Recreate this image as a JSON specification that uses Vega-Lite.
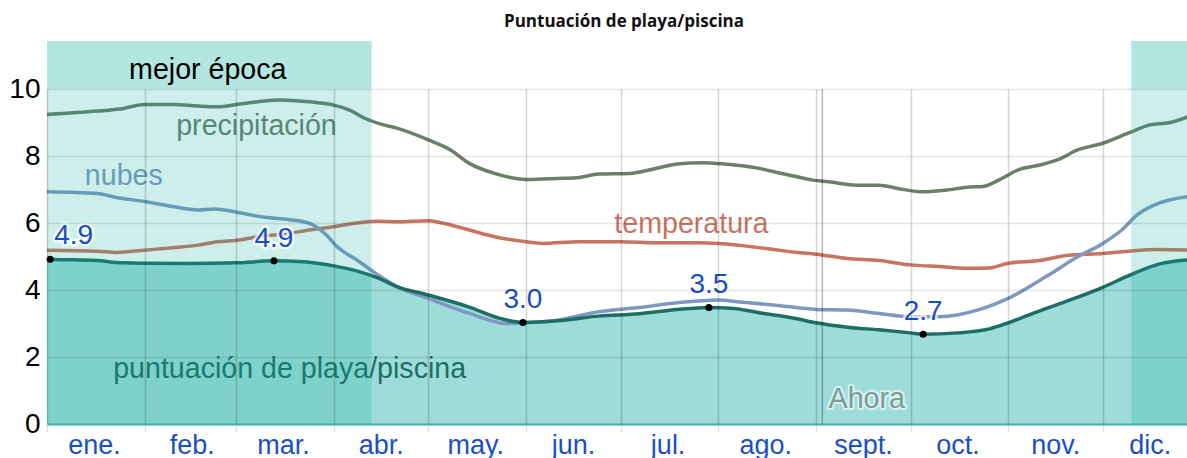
{
  "$schema": "https://vega.github.io/schema/vega-lite/v6.json",
  "width": 1140,
  "height": 335,
  "autosize": {"type": "none"},
  "padding": {"left": 47, "top": 89, "right": 0, "bottom": 34},
  "background": "white",
  "title": {"text": "Puntuación de playa/piscina", "font": "Open Sans", "fontSize": 17, "fontWeight": "bold", "color": "#111111", "anchor": "middle", "frame": "group", "dx": 7, "offset": 10},
  "config": {"view": {"stroke": null}, "font": "Liberation Sans"},
  "datasets": {
    "series": [
      {"fecha": "2024-01-01", "serie": "precipitación", "valor": 9.24},
      {"fecha": "2024-01-17", "serie": "precipitación", "valor": 9.34},
      {"fecha": "2024-01-24", "serie": "precipitación", "valor": 9.40},
      {"fecha": "2024-02-01", "serie": "precipitación", "valor": 9.54},
      {"fecha": "2024-02-10", "serie": "precipitación", "valor": 9.54},
      {"fecha": "2024-02-18", "serie": "precipitación", "valor": 9.49},
      {"fecha": "2024-02-24", "serie": "precipitación", "valor": 9.47},
      {"fecha": "2024-03-02", "serie": "precipitación", "valor": 9.55},
      {"fecha": "2024-03-08", "serie": "precipitación", "valor": 9.62},
      {"fecha": "2024-03-15", "serie": "precipitación", "valor": 9.67},
      {"fecha": "2024-03-21", "serie": "precipitación", "valor": 9.64},
      {"fecha": "2024-03-27", "serie": "precipitación", "valor": 9.59},
      {"fecha": "2024-04-01", "serie": "precipitación", "valor": 9.52},
      {"fecha": "2024-04-06", "serie": "precipitación", "valor": 9.37},
      {"fecha": "2024-04-11", "serie": "precipitación", "valor": 9.12},
      {"fecha": "2024-04-16", "serie": "precipitación", "valor": 8.95},
      {"fecha": "2024-04-21", "serie": "precipitación", "valor": 8.83},
      {"fecha": "2024-05-01", "serie": "precipitación", "valor": 8.48},
      {"fecha": "2024-05-08", "serie": "precipitación", "valor": 8.18},
      {"fecha": "2024-05-14", "serie": "precipitación", "valor": 7.78},
      {"fecha": "2024-05-22", "serie": "precipitación", "valor": 7.48},
      {"fecha": "2024-06-01", "serie": "precipitación", "valor": 7.30},
      {"fecha": "2024-06-11", "serie": "precipitación", "valor": 7.33},
      {"fecha": "2024-06-18", "serie": "precipitación", "valor": 7.36},
      {"fecha": "2024-06-24", "serie": "precipitación", "valor": 7.46},
      {"fecha": "2024-07-04", "serie": "precipitación", "valor": 7.48},
      {"fecha": "2024-07-10", "serie": "precipitación", "valor": 7.58},
      {"fecha": "2024-07-19", "serie": "precipitación", "valor": 7.76},
      {"fecha": "2024-07-27", "serie": "precipitación", "valor": 7.80},
      {"fecha": "2024-08-03", "serie": "precipitación", "valor": 7.76},
      {"fecha": "2024-08-14", "serie": "precipitación", "valor": 7.63},
      {"fecha": "2024-08-20", "serie": "precipitación", "valor": 7.50},
      {"fecha": "2024-08-26", "serie": "precipitación", "valor": 7.38},
      {"fecha": "2024-08-31", "serie": "precipitación", "valor": 7.28},
      {"fecha": "2024-09-05", "serie": "precipitación", "valor": 7.23},
      {"fecha": "2024-09-14", "serie": "precipitación", "valor": 7.13},
      {"fecha": "2024-09-21", "serie": "precipitación", "valor": 7.13},
      {"fecha": "2024-09-27", "serie": "precipitación", "valor": 7.03},
      {"fecha": "2024-10-05", "serie": "precipitación", "valor": 6.93},
      {"fecha": "2024-10-13", "serie": "precipitación", "valor": 6.99},
      {"fecha": "2024-10-19", "serie": "precipitación", "valor": 7.07},
      {"fecha": "2024-10-24", "serie": "precipitación", "valor": 7.09},
      {"fecha": "2024-10-29", "serie": "precipitación", "valor": 7.28},
      {"fecha": "2024-11-04", "serie": "precipitación", "valor": 7.58},
      {"fecha": "2024-11-11", "serie": "precipitación", "valor": 7.73},
      {"fecha": "2024-11-17", "serie": "precipitación", "valor": 7.90},
      {"fecha": "2024-11-23", "serie": "precipitación", "valor": 8.18},
      {"fecha": "2024-12-01", "serie": "precipitación", "valor": 8.38},
      {"fecha": "2024-12-09", "serie": "precipitación", "valor": 8.68},
      {"fecha": "2024-12-16", "serie": "precipitación", "valor": 8.93},
      {"fecha": "2024-12-22", "serie": "precipitación", "valor": 8.99},
      {"fecha": "2024-12-28", "serie": "precipitación", "valor": 9.17},

      {"fecha": "2024-01-01", "serie": "temperatura", "valor": 5.19},
      {"fecha": "2024-01-17", "serie": "temperatura", "valor": 5.16},
      {"fecha": "2024-01-23", "serie": "temperatura", "valor": 5.12},
      {"fecha": "2024-02-01", "serie": "temperatura", "valor": 5.19},
      {"fecha": "2024-02-10", "serie": "temperatura", "valor": 5.26},
      {"fecha": "2024-02-18", "serie": "temperatura", "valor": 5.34},
      {"fecha": "2024-02-24", "serie": "temperatura", "valor": 5.44},
      {"fecha": "2024-03-02", "serie": "temperatura", "valor": 5.49},
      {"fecha": "2024-03-08", "serie": "temperatura", "valor": 5.59},
      {"fecha": "2024-03-18", "serie": "temperatura", "valor": 5.69},
      {"fecha": "2024-03-24", "serie": "temperatura", "valor": 5.79},
      {"fecha": "2024-04-01", "serie": "temperatura", "valor": 5.89},
      {"fecha": "2024-04-09", "serie": "temperatura", "valor": 6.01},
      {"fecha": "2024-04-15", "serie": "temperatura", "valor": 6.05},
      {"fecha": "2024-04-21", "serie": "temperatura", "valor": 6.04},
      {"fecha": "2024-05-01", "serie": "temperatura", "valor": 6.07},
      {"fecha": "2024-05-05", "serie": "temperatura", "valor": 6.01},
      {"fecha": "2024-05-14", "serie": "temperatura", "valor": 5.79},
      {"fecha": "2024-05-22", "serie": "temperatura", "valor": 5.59},
      {"fecha": "2024-06-01", "serie": "temperatura", "valor": 5.44},
      {"fecha": "2024-06-06", "serie": "temperatura", "valor": 5.39},
      {"fecha": "2024-06-18", "serie": "temperatura", "valor": 5.44},
      {"fecha": "2024-07-01", "serie": "temperatura", "valor": 5.44},
      {"fecha": "2024-07-13", "serie": "temperatura", "valor": 5.41},
      {"fecha": "2024-07-25", "serie": "temperatura", "valor": 5.41},
      {"fecha": "2024-08-01", "serie": "temperatura", "valor": 5.39},
      {"fecha": "2024-08-10", "serie": "temperatura", "valor": 5.31},
      {"fecha": "2024-08-20", "serie": "temperatura", "valor": 5.19},
      {"fecha": "2024-08-26", "serie": "temperatura", "valor": 5.12},
      {"fecha": "2024-09-01", "serie": "temperatura", "valor": 5.07},
      {"fecha": "2024-09-11", "serie": "temperatura", "valor": 4.94},
      {"fecha": "2024-09-21", "serie": "temperatura", "valor": 4.88},
      {"fecha": "2024-10-01", "serie": "temperatura", "valor": 4.75},
      {"fecha": "2024-10-10", "serie": "temperatura", "valor": 4.70},
      {"fecha": "2024-10-19", "serie": "temperatura", "valor": 4.65},
      {"fecha": "2024-10-26", "serie": "temperatura", "valor": 4.66},
      {"fecha": "2024-11-01", "serie": "temperatura", "valor": 4.80},
      {"fecha": "2024-11-11", "serie": "temperatura", "valor": 4.88},
      {"fecha": "2024-11-20", "serie": "temperatura", "valor": 5.04},
      {"fecha": "2024-12-01", "serie": "temperatura", "valor": 5.09},
      {"fecha": "2024-12-09", "serie": "temperatura", "valor": 5.16},
      {"fecha": "2024-12-19", "serie": "temperatura", "valor": 5.21},
      {"fecha": "2024-12-28", "serie": "temperatura", "valor": 5.19},

      {"fecha": "2024-01-01", "serie": "nubes", "valor": 6.93},
      {"fecha": "2024-01-17", "serie": "nubes", "valor": 6.88},
      {"fecha": "2024-01-23", "serie": "nubes", "valor": 6.76},
      {"fecha": "2024-02-01", "serie": "nubes", "valor": 6.64},
      {"fecha": "2024-02-10", "serie": "nubes", "valor": 6.49},
      {"fecha": "2024-02-18", "serie": "nubes", "valor": 6.39},
      {"fecha": "2024-02-23", "serie": "nubes", "valor": 6.42},
      {"fecha": "2024-03-03", "serie": "nubes", "valor": 6.29},
      {"fecha": "2024-03-10", "serie": "nubes", "valor": 6.17},
      {"fecha": "2024-03-18", "serie": "nubes", "valor": 6.10},
      {"fecha": "2024-03-24", "serie": "nubes", "valor": 6.00},
      {"fecha": "2024-03-29", "serie": "nubes", "valor": 5.70},
      {"fecha": "2024-04-02", "serie": "nubes", "valor": 5.30},
      {"fecha": "2024-04-09", "serie": "nubes", "valor": 4.85},
      {"fecha": "2024-04-15", "serie": "nubes", "valor": 4.45},
      {"fecha": "2024-04-21", "serie": "nubes", "valor": 4.10},
      {"fecha": "2024-05-01", "serie": "nubes", "valor": 3.75},
      {"fecha": "2024-05-14", "serie": "nubes", "valor": 3.30},
      {"fecha": "2024-05-26", "serie": "nubes", "valor": 3.00},
      {"fecha": "2024-05-31", "serie": "nubes", "valor": 3.02},
      {"fecha": "2024-06-11", "serie": "nubes", "valor": 3.10},
      {"fecha": "2024-06-24", "serie": "nubes", "valor": 3.35},
      {"fecha": "2024-07-07", "serie": "nubes", "valor": 3.48},
      {"fecha": "2024-07-19", "serie": "nubes", "valor": 3.62},
      {"fecha": "2024-08-01", "serie": "nubes", "valor": 3.70},
      {"fecha": "2024-08-07", "serie": "nubes", "valor": 3.65},
      {"fecha": "2024-08-20", "serie": "nubes", "valor": 3.54},
      {"fecha": "2024-09-01", "serie": "nubes", "valor": 3.42},
      {"fecha": "2024-09-11", "serie": "nubes", "valor": 3.40},
      {"fecha": "2024-09-21", "serie": "nubes", "valor": 3.30},
      {"fecha": "2024-10-01", "serie": "nubes", "valor": 3.20},
      {"fecha": "2024-10-10", "serie": "nubes", "valor": 3.20},
      {"fecha": "2024-10-23", "serie": "nubes", "valor": 3.42},
      {"fecha": "2024-11-01", "serie": "nubes", "valor": 3.75},
      {"fecha": "2024-11-13", "serie": "nubes", "valor": 4.40},
      {"fecha": "2024-11-23", "serie": "nubes", "valor": 4.99},
      {"fecha": "2024-12-01", "serie": "nubes", "valor": 5.39},
      {"fecha": "2024-12-07", "serie": "nubes", "valor": 5.79},
      {"fecha": "2024-12-12", "serie": "nubes", "valor": 6.25},
      {"fecha": "2024-12-19", "serie": "nubes", "valor": 6.60},
      {"fecha": "2024-12-28", "serie": "nubes", "valor": 6.79},

      {"fecha": "2024-01-01", "serie": "puntuación", "valor": 4.93},
      {"fecha": "2024-01-02", "serie": "puntuación", "valor": 4.92},
      {"fecha": "2024-01-17", "serie": "puntuación", "valor": 4.88},
      {"fecha": "2024-01-23", "serie": "puntuación", "valor": 4.82},
      {"fecha": "2024-02-01", "serie": "puntuación", "valor": 4.80},
      {"fecha": "2024-02-15", "serie": "puntuación", "valor": 4.79},
      {"fecha": "2024-03-01", "serie": "puntuación", "valor": 4.81},
      {"fecha": "2024-03-13", "serie": "puntuación", "valor": 4.87},
      {"fecha": "2024-03-21", "serie": "puntuación", "valor": 4.85},
      {"fecha": "2024-04-01", "serie": "puntuación", "valor": 4.72},
      {"fecha": "2024-04-09", "serie": "puntuación", "valor": 4.55},
      {"fecha": "2024-04-15", "serie": "puntuación", "valor": 4.36},
      {"fecha": "2024-04-21", "serie": "puntuación", "valor": 4.10},
      {"fecha": "2024-05-01", "serie": "puntuación", "valor": 3.85},
      {"fecha": "2024-05-14", "serie": "puntuación", "valor": 3.49},
      {"fecha": "2024-05-23", "serie": "puntuación", "valor": 3.17},
      {"fecha": "2024-05-31", "serie": "puntuación", "valor": 3.03},
      {"fecha": "2024-06-11", "serie": "puntuación", "valor": 3.08},
      {"fecha": "2024-06-24", "serie": "puntuación", "valor": 3.22},
      {"fecha": "2024-07-07", "serie": "puntuación", "valor": 3.29},
      {"fecha": "2024-07-19", "serie": "puntuación", "valor": 3.42},
      {"fecha": "2024-07-29", "serie": "puntuación", "valor": 3.48},
      {"fecha": "2024-08-06", "serie": "puntuación", "valor": 3.45},
      {"fecha": "2024-08-14", "serie": "puntuación", "valor": 3.32},
      {"fecha": "2024-08-26", "serie": "puntuación", "valor": 3.14},
      {"fecha": "2024-09-01", "serie": "puntuación", "valor": 3.02},
      {"fecha": "2024-09-11", "serie": "puntuación", "valor": 2.89},
      {"fecha": "2024-09-21", "serie": "puntuación", "valor": 2.81},
      {"fecha": "2024-10-01", "serie": "puntuación", "valor": 2.72},
      {"fecha": "2024-10-05", "serie": "puntuación", "valor": 2.68},
      {"fecha": "2024-10-16", "serie": "puntuación", "valor": 2.72},
      {"fecha": "2024-10-26", "serie": "puntuación", "valor": 2.84},
      {"fecha": "2024-11-01", "serie": "puntuación", "valor": 3.02},
      {"fecha": "2024-11-11", "serie": "puntuación", "valor": 3.38},
      {"fecha": "2024-11-20", "serie": "puntuación", "valor": 3.68},
      {"fecha": "2024-12-01", "serie": "puntuación", "valor": 4.08},
      {"fecha": "2024-12-09", "serie": "puntuación", "valor": 4.42},
      {"fecha": "2024-12-19", "serie": "puntuación", "valor": 4.78},
      {"fecha": "2024-12-28", "serie": "puntuación", "valor": 4.90}
    ],
    "puntos": [
      {"fecha": "2024-01-02", "valor": 4.92, "etiqueta": "4.9", "borde": true},
      {"fecha": "2024-03-13", "valor": 4.87, "etiqueta": "4.9", "borde": false},
      {"fecha": "2024-05-31", "valor": 3.03, "etiqueta": "3.0", "borde": false},
      {"fecha": "2024-07-29", "valor": 3.48, "etiqueta": "3.5", "borde": false},
      {"fecha": "2024-10-05", "valor": 2.68, "etiqueta": "2.7", "borde": false}
    ],
    "etiquetas": [
      {"etiqueta": "precipitación", "serie": "precipitación", "fecha": "2024-02-11", "valor": 8.63},
      {"etiqueta": "nubes", "serie": "nubes", "fecha": "2024-01-13", "valor": 7.13},
      {"etiqueta": "temperatura", "serie": "temperatura", "fecha": "2024-06-29", "valor": 5.69},
      {"etiqueta": "puntuación de playa/piscina", "serie": "puntuación", "fecha": "2024-01-22", "valor": 1.37},
      {"etiqueta": "Ahora", "serie": "ahora", "fecha": "2024-09-05", "valor": 0.47}
    ],
    "mejor": [
      {"fecha": "2024-01-01", "fin": "2024-04-13"},
      {"fecha": "2024-12-10", "fin": "2024-12-28"}
    ],
    "ahora": [{"fecha": "2024-09-03"}],
    "mejorEtiqueta": [{"fecha": "2024-02-21", "valor": 10.3, "etiqueta": "mejor época"}]
  },
  "encoding": {
    "x": {
      "field": "fecha", "type": "temporal",
      "scale": {"type": "utc", "domain": [{"year": 2024, "month": 1, "date": 1, "utc": true}, {"year": 2024, "month": 12, "date": 27, "hours": 17, "utc": true}]},
      "axis": {
        "title": null,
        "values": [
          {"year": 2024, "month": 1, "date": 1, "utc": true},
          {"year": 2024, "month": 2, "date": 1, "utc": true},
          {"year": 2024, "month": 3, "date": 1, "utc": true},
          {"year": 2024, "month": 4, "date": 1, "utc": true},
          {"year": 2024, "month": 5, "date": 1, "utc": true},
          {"year": 2024, "month": 6, "date": 1, "utc": true},
          {"year": 2024, "month": 7, "date": 1, "utc": true},
          {"year": 2024, "month": 8, "date": 1, "utc": true},
          {"year": 2024, "month": 9, "date": 1, "utc": true},
          {"year": 2024, "month": 10, "date": 1, "utc": true},
          {"year": 2024, "month": 11, "date": 1, "utc": true},
          {"year": 2024, "month": 12, "date": 1, "utc": true}
        ],
        "labelExpr": "['ene.','feb.','mar.','abr.','may.','jun.','jul.','ago.','sept.','oct.','nov.','dic.'][utcmonth(datum.value)]",
        "labelOffset": 47,
        "labelFont": "Liberation Sans",
        "labelFontSize": 27,
        "labelColor": "#1a4fc4",
        "labelBaseline": "alphabetic",
        "labelPadding": 21,
        "labelOverlap": false,
        "labelFlush": false,
        "labelBound": false,
        "grid": true,
        "gridColor": "#000000",
        "gridOpacity": 0.16,
        "gridWidth": 1.5,
        "ticks": true,
        "tickSize": 8,
        "tickColor": "#000000",
        "tickOpacity": 0.12,
        "tickWidth": 1.5,
        "domain": true,
        "domainColor": "#3db3a8",
        "domainWidth": 2,
        "zindex": 1
      }
    }
  },
  "layer": [
    {
      "data": {"name": "series"},
      "transform": [{"filter": "datum.serie === 'puntuación'"}],
      "mark": {"type": "area", "color": "#9ddcd8", "interpolate": "monotone", "opacity": 1},
      "encoding": {
        "y": {
          "field": "valor", "type": "quantitative",
          "scale": {"domain": [0, 10], "nice": false},
          "axis": {
            "title": null,
            "values": [0, 2, 4, 6, 8, 10],
            "labelFont": "Liberation Sans",
            "labelFontSize": 28,
            "labelColor": "#000000",
            "labelPadding": 7,
            "grid": true,
            "gridColor": "#000000",
            "gridOpacity": 0.1,
            "gridWidth": 1.5,
            "ticks": false,
            "domain": false,
            "zindex": 1
          }
        }
      }
    },
    {
      "data": {"name": "series"},
      "transform": [{"filter": "datum.serie !== 'puntuación'"}],
      "mark": {"type": "line", "strokeWidth": 3.5, "interpolate": "monotone"},
      "encoding": {
        "y": {"field": "valor", "type": "quantitative", "scale": {"domain": [0, 10], "nice": false}},
        "detail": {"field": "serie"},
        "color": {"field": "serie", "type": "nominal", "legend": null,
          "scale": {"domain": ["precipitación", "temperatura", "nubes", "puntuación", "ahora"], "range": ["#6b7f6b", "#c87461", "#7f98bf", "#1d6e64", "#7a9b98"]}}
      }
    },
    {
      "data": {"name": "series"},
      "transform": [{"filter": "datum.serie === 'puntuación'"}],
      "mark": {"type": "line", "strokeWidth": 3.5, "interpolate": "monotone", "color": "#1d6e64"},
      "encoding": {
        "y": {"field": "valor", "type": "quantitative", "scale": {"domain": [0, 10], "nice": false}}
      }
    },
    {
      "data": {"name": "ahora"},
      "mark": {"type": "rule", "color": "#000000", "opacity": 0.28, "strokeWidth": 1.5},
      "encoding": {
        "y": {"datum": 0, "type": "quantitative", "scale": {"domain": [0, 10], "nice": false}},
        "y2": {"datum": 10}
      }
    },
    {
      "data": {"name": "etiquetas"},
      "transform": [{"filter": "datum.serie !== 'puntuación'"}],
      "mark": {"type": "text", "align": "left", "baseline": "alphabetic", "fontSize": 28.6, "font": "Liberation Sans", "fill": "#ffffff", "stroke": "#ffffff", "strokeWidth": 4, "strokeJoin": "round", "opacity": 0.6},
      "encoding": {
        "y": {"field": "valor", "type": "quantitative", "scale": {"domain": [0, 10], "nice": false}},
        "text": {"field": "etiqueta"}
      }
    },
    {
      "data": {"name": "etiquetas"},
      "mark": {"type": "text", "align": "left", "baseline": "alphabetic", "fontSize": 28.6, "font": "Liberation Sans"},
      "encoding": {
        "y": {"field": "valor", "type": "quantitative", "scale": {"domain": [0, 10], "nice": false}},
        "text": {"field": "etiqueta"},
        "color": {"field": "serie", "type": "nominal", "legend": null}
      }
    },
    {
      "data": {"name": "mejor"},
      "mark": {"type": "rect", "color": "#0aac9d", "opacity": 0.2},
      "encoding": {
        "x2": {"field": "fin"},
        "y": {"datum": 0, "type": "quantitative", "scale": {"domain": [0, 10], "nice": false}},
        "y2": {"datum": 10}
      }
    },
    {
      "data": {"name": "mejor"},
      "mark": {"type": "rect", "color": "#0aac9d", "opacity": 0.31},
      "encoding": {
        "x2": {"field": "fin"},
        "y": {"datum": 10, "type": "quantitative", "scale": {"domain": [0, 10], "nice": false}},
        "y2": {"datum": 11.43}
      }
    },
    {
      "data": {"name": "mejorEtiqueta"},
      "mark": {"type": "text", "align": "center", "baseline": "alphabetic", "fontSize": 28.6, "font": "Liberation Sans", "color": "#000000"},
      "encoding": {
        "y": {"field": "valor", "type": "quantitative", "scale": {"domain": [0, 10], "nice": false}},
        "text": {"field": "etiqueta"}
      }
    },
    {
      "data": {"name": "puntos"},
      "mark": {"type": "text", "align": "center", "baseline": "alphabetic", "fontSize": 28, "font": "Liberation Sans", "fill": "#ffffff", "stroke": "#ffffff", "strokeWidth": 5, "strokeJoin": "round", "opacity": 0.75, "dy": -14},
      "transform": [{"filter": "!datum.borde"}],
      "encoding": {
        "y": {"field": "valor", "type": "quantitative", "scale": {"domain": [0, 10], "nice": false}},
        "text": {"field": "etiqueta"}
      }
    },
    {
      "data": {"name": "puntos"},
      "mark": {"type": "text", "align": "center", "baseline": "alphabetic", "fontSize": 28, "font": "Liberation Sans", "color": "#1a4fc4", "dy": -14},
      "transform": [{"filter": "!datum.borde"}],
      "encoding": {
        "y": {"field": "valor", "type": "quantitative", "scale": {"domain": [0, 10], "nice": false}},
        "text": {"field": "etiqueta"}
      }
    },
    {
      "data": {"name": "puntos"},
      "mark": {"type": "text", "align": "left", "baseline": "alphabetic", "fontSize": 28, "font": "Liberation Sans", "fill": "#ffffff", "stroke": "#ffffff", "strokeWidth": 5, "strokeJoin": "round", "opacity": 0.75, "dy": -15, "dx": 4},
      "transform": [{"filter": "datum.borde"}],
      "encoding": {
        "y": {"field": "valor", "type": "quantitative", "scale": {"domain": [0, 10], "nice": false}},
        "text": {"field": "etiqueta"}
      }
    },
    {
      "data": {"name": "puntos"},
      "mark": {"type": "text", "align": "left", "baseline": "alphabetic", "fontSize": 28, "font": "Liberation Sans", "color": "#1a4fc4", "dy": -15, "dx": 4},
      "transform": [{"filter": "datum.borde"}],
      "encoding": {
        "y": {"field": "valor", "type": "quantitative", "scale": {"domain": [0, 10], "nice": false}},
        "text": {"field": "etiqueta"}
      }
    },
    {
      "data": {"name": "puntos"},
      "mark": {"type": "point", "filled": true, "color": "#000000", "size": 50, "opacity": 1},
      "encoding": {
        "y": {"field": "valor", "type": "quantitative", "scale": {"domain": [0, 10], "nice": false}}
      }
    }
  ]
}
